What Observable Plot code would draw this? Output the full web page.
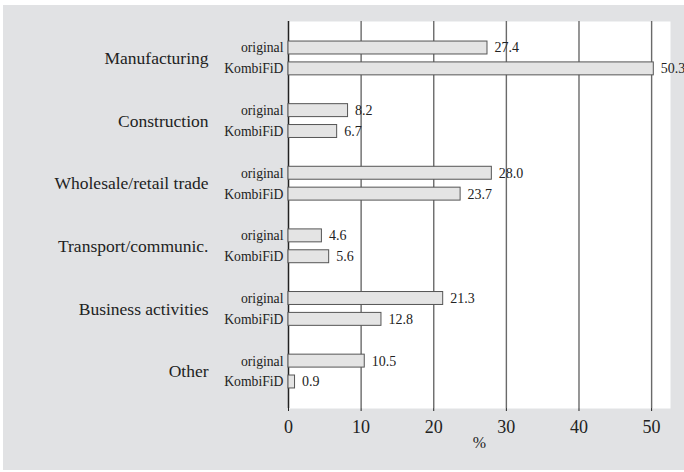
<!DOCTYPE html>
<html>
<head>
<meta charset="utf-8">
<script src="https://cdn.jsdelivr.net/npm/d3@7"></script>
<script src="https://cdn.jsdelivr.net/npm/@observablehq/plot@0.6"></script>
<style>
  html, body { margin: 0; padding: 0; background: #ffffff; }
  #chart { padding: 5px 0 0 3px; }
  #chart svg { display: block; }
</style>
</head>
<body>
<div id="chart"></div>
<script>
const categories = ["Manufacturing", "Construction", "Wholesale/retail trade", "Transport/communic.", "Business activities", "Other"];
const seriesNames = ["original", "KombiFiD"];
const originalValues = [27.4, 8.2, 28.0, 4.6, 21.3, 10.5];
const kombifidValues = [50.3, 6.7, 23.7, 5.6, 12.8, 0.9];
const xTicks = [0, 10, 20, 30, 40, 50];

const keys = [];
categories.forEach((c, i) => {
  if (i > 0) keys.push(c + "|gap");
  seriesNames.forEach(s => keys.push(c + "|" + s));
});

const data = categories.flatMap((c, i) => [
  {cat: c, series: "original", key: c + "|original", value: originalValues[i]},
  {cat: c, series: "KombiFiD", key: c + "|KombiFiD", value: kombifidValues[i]}
]);

const ink = "#222";
const chart = Plot.plot({
  width: 681,
  height: 465,
  marginLeft: 285,
  marginRight: 14,
  marginTop: 16,
  marginBottom: 62,
  style: {fontFamily: "'Liberation Serif', 'Times New Roman', serif", background: "#e1e2e4", color: ink},
  x: {domain: [0, 52.6], label: null},
  y: {domain: keys, paddingInner: 0.38, paddingOuter: 0.96, round: false, axis: null, label: null},
  marks: [
    Plot.frame({fill: "white", stroke: null}),
    Plot.gridX({ticks: xTicks.filter(d => d > 0), stroke: "#6a6a6a", strokeOpacity: 1, strokeWidth: 1.4}),
    Plot.ruleX([0], {stroke: "#222", strokeWidth: 1.5}),
    Plot.barX(data, {x: "value", y: "key", fill: "#e4e4e4", stroke: "#555", strokeWidth: 1}),
    Plot.text(data, {x: "value", y: "key", text: d => d.value.toFixed(1), textAnchor: "start", dx: 7, fontSize: 14, fill: ink, style: "letter-spacing:1px"}),
    Plot.axisY(keys.filter(k => !k.endsWith("|gap")), {tickSize: 0, tickPadding: 5, tickFormat: d => d.split("|")[1], fontSize: 13.7, fill: ink, label: null}),
    Plot.axisY(keys.filter(k => k.endsWith("|original")), {tickSize: 0, tickPadding: 80, tickFormat: d => d.split("|")[0], fontSize: 17.5, dy: 10.5, fill: ink, label: null}),
    Plot.axisX(xTicks, {tickSize: 3, tickPadding: 9, fontSize: 18, label: null, line: true, stroke: "#222", fill: ink, style: "letter-spacing:2.5px"}),
    Plot.text(["%"], {frameAnchor: "bottom", dy: 39, fontSize: 16, fill: ink})
  ]
});
document.getElementById("chart").appendChild(chart);
</script>
</body>
</html>
